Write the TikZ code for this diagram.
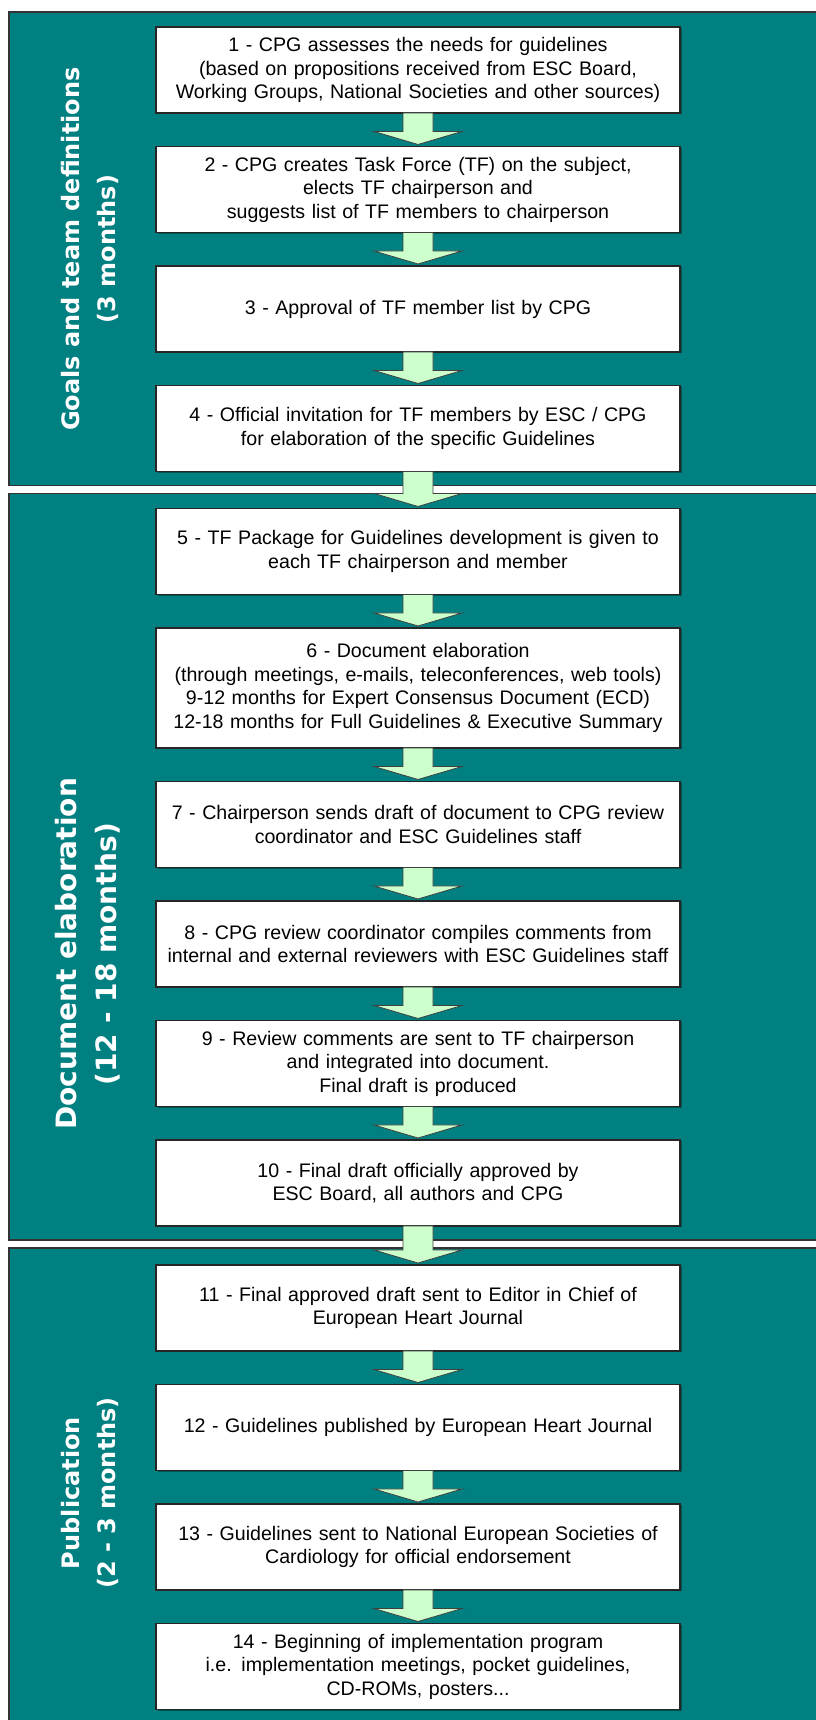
\documentclass[tikz,border=0pt]{standalone}
\usepackage{fontspec}
\setmainfont{Liberation Sans}
\newfontfamily\labelfont{DejaVu Sans}
\usepackage{xcolor}
\usetikzlibrary{positioning}
\usetikzlibrary{calc}
\usetikzlibrary{backgrounds}
\usetikzlibrary{shadows}
\definecolor{panelteal}{HTML}{008080}
\definecolor{arrowgreen}{HTML}{CCFFCC}
\tikzset{
    step_node/.style = {rectangle, align=center, inner sep=0pt, outer sep=0pt, text centered, draw=black!85, fill=white, line width=1.1pt,
        text width=520pt, minimum width=524pt, minimum height=86pt,
        drop shadow={shadow xshift=1.5pt, shadow yshift=-1.5pt, fill=black, opacity=0.35},
        font=\fontsize{19.6}{23.5}\selectfont},
    panel_box/.style = {fill=panelteal, draw=black!80, line width=1.4pt},
    side_label/.style = {align=center, inner sep=0pt, rotate=90, white, font=\labelfont\bfseries\fontsize{24}{36}\selectfont},
    flow_arrow/.style = {fill=arrowgreen, draw=black!75, line width=0.8pt,
        to path={let \p1=(\tikztostart), \p2=(\tikztotarget) in
            (\x1-15pt,\y1) -- (\x1+15pt,\y1) -- (\x1+15pt,\y2+15pt) -- (\x1+44pt,\y2+15pt)
            -- (\x1,\y2+2pt) -- (\x1-44pt,\y2+15pt) -- (\x1-15pt,\y2+15pt) -- cycle}}
}

\begin{document}
\begin{tikzpicture}[x=1pt, y=1pt]
    \useasboundingbox (0,0) rectangle (815,1720);

    % goals and team definitions
    \node [step_node] (s1) at (418,1650) {1 - CPG assesses the needs for guidelines\\(based on propositions received from ESC Board,\\Working Groups, National Societies and other sources)};
    \node [step_node, below=33.5pt of s1] (s2) {2 - CPG creates Task Force (TF) on the subject,\\elects TF chairperson and\\suggests list of TF members to chairperson};
    \node [step_node, below=33.5pt of s2] (s3) {3 - Approval of TF member list by CPG};
    \node [step_node, below=33.5pt of s3] (s4) {4 - Official invitation for TF members by ESC / CPG\\for elaboration of the specific Guidelines};

    % document elaboration
    \node [step_node, below=37pt of s4] (s5) {5 - TF Package for Guidelines development is given to\\each TF chairperson and member};
    \node [step_node, below=33.5pt of s5, minimum height=120pt] (s6) {6 - Document elaboration\\(through meetings, e-mails, teleconferences, web tools)\\9-12 months for Expert Consensus Document (ECD)\\12-18 months for Full Guidelines \& Executive Summary};
    \node [step_node, below=33.5pt of s6] (s7) {7 - Chairperson sends draft of document to CPG review\\coordinator and ESC Guidelines staff};
    \node [step_node, below=33.5pt of s7] (s8) {8 - CPG review coordinator compiles comments from\\internal and external reviewers with ESC Guidelines staff};
    \node [step_node, below=33.5pt of s8] (s9) {9 - Review comments are sent to TF chairperson\\and integrated into document.\\Final draft is produced};
    \node [step_node, below=33.5pt of s9] (s10) {10 - Final draft officially approved by\\ESC Board, all authors and CPG};

    % publication
    \node [step_node, below=39pt of s10] (s11) {11 - Final approved draft sent to Editor in Chief of\\European Heart Journal};
    \node [step_node, below=33.5pt of s11] (s12) {12 - Guidelines published by European Heart Journal};
    \node [step_node, below=33.5pt of s12] (s13) {13 - Guidelines sent to National European Societies of\\Cardiology for official endorsement};
    \node [step_node, below=33.5pt of s13] (s14) {14 - Beginning of implementation program\\i.e. implementation meetings, pocket guidelines,\\CD-ROMs, posters...};

    \foreach \a/\b in {s1/s2, s2/s3, s3/s4, s4/s5, s5/s6, s6/s7, s7/s8, s8/s9, s9/s10, s10/s11, s11/s12, s12/s13, s13/s14}
        \draw [flow_arrow] (\a.south) to (\b.north);

    \begin{scope}[on background layer]
        \coordinate (edge_l) at (9,0);
        \coordinate (edge_r) at (830,0);
        \coordinate (p1_top) at ($(s1.north)+(0,15)$);
        \coordinate (p1_bot) at ($(s4.south)+(0,-14)$);
        \coordinate (p2_top) at ($(s5.north)+(0,15)$);
        \coordinate (p2_bot) at ($(s10.south)+(0,-14)$);
        \coordinate (p3_top) at ($(s11.north)+(0,17)$);
        \coordinate (p3_bot) at (0,-20);
        \draw [panel_box] (p1_top -| edge_l) rectangle (p1_bot -| edge_r);
        \draw [panel_box] (p2_top -| edge_l) rectangle (p2_bot -| edge_r);
        \draw [panel_box] (p3_top -| edge_l) rectangle (p3_bot -| edge_r);
    \end{scope}

    \node [side_label] (goals) at (90,1471) {Goals and team definitions\\(3 months)};
    \node [side_label, font=\labelfont\bfseries\fontsize{28}{40}\selectfont] (elaboration) at (88,766) {Document elaboration\\(12 - 18 months)};
    \node [side_label] (publication) at (90,227) {Publication\\(2 - 3 months)};
\end{tikzpicture}
\end{document}
